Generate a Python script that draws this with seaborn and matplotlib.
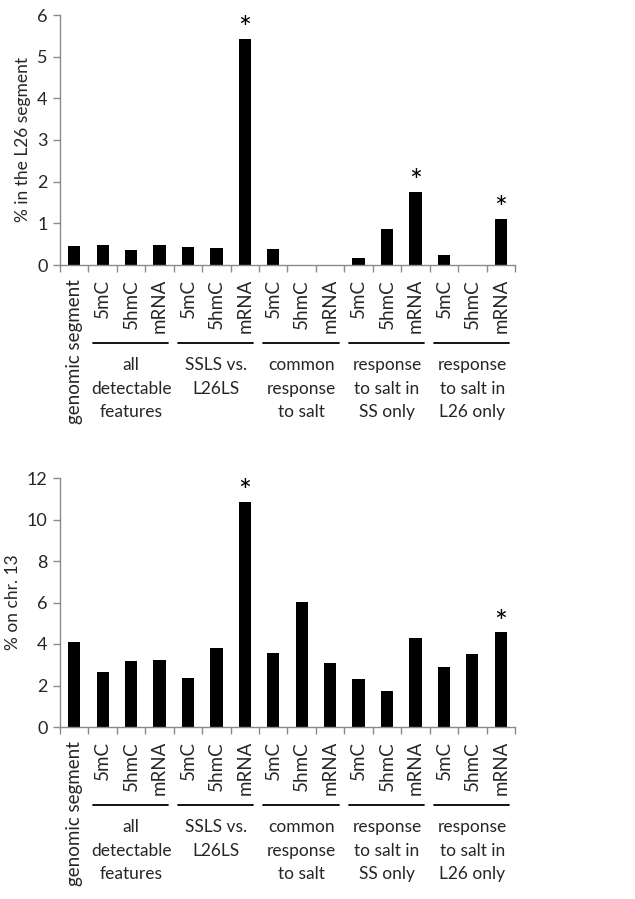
import matplotlib
matplotlib.use("Agg")
import matplotlib.pyplot as plt
import matplotlib.transforms as mtransforms
from matplotlib.lines import Line2D
import seaborn as sns
import pandas as pd
import numpy as np

sns.set_theme(style="white")
plt.rcParams['font.family'] = ['Lato', 'DejaVu Sans']

# ---- data ----
bar_labels = ["genomic segment",
              "5mC", "5hmC", "mRNA",
              "5mC", "5hmC", "mRNA",
              "5mC", "5hmC", "mRNA",
              "5mC", "5hmC", "mRNA",
              "5mC", "5hmC", "mRNA"]
group_labels = ["all\ndetectable\nfeatures",
                "SSLS vs.\nL26LS",
                "common\nresponse\nto salt",
                "response\nto salt in\nSS only",
                "response\nto salt in\nL26 only"]
l26_values = [0.46, 0.47, 0.37, 0.48, 0.43, 0.41, 5.42, 0.39, 0.0, 0.0,
              0.16, 0.86, 1.76, 0.23, 0.0, 1.10]
chr13_values = [4.11, 2.63, 3.16, 3.21, 2.36, 3.82, 10.86, 3.55, 6.01, 3.07,
                2.33, 1.72, 4.27, 2.91, 3.50, 4.56]
l26_star = [6, 12, 15]
chr13_star = [6, 15]

keys = [f"c{i}" for i in range(len(bar_labels))]

fig = plt.figure(figsize=(6.35, 8.99), dpi=100)
W, H = 635, 899
left_px, right_px = 60, 515

def make_axes(top_px, bottom_px):
    return fig.add_axes([left_px / W, 1 - bottom_px / H,
                         (right_px - left_px) / W, (bottom_px - top_px) / H])

ax1 = make_axes(15, 265)
ax2 = make_axes(478, 727)

spine_col = "#8a8a8a"

def draw(ax, values, stars, ymax, ystep, ylabel):
    df = pd.DataFrame({"key": keys, "value": values})
    sns.barplot(data=df, x="key", y="value", order=keys, color="black",
                width=0.43, saturation=1, ax=ax, edgecolor="black", linewidth=0)
    ax.set_xlim(-0.5, len(keys) - 0.5)
    ax.set_ylim(0, ymax)
    ticks = np.arange(0, ymax + 0.01, ystep)
    ax.set_yticks(ticks)
    ax.set_yticklabels([f"{int(v)}" for v in ticks], fontsize=13)
    ax.set_xticks(range(len(keys)))
    ax.set_xticklabels(bar_labels, rotation=90, fontsize=13.5, va="top", ha="center")
    ax.set_xticks(np.arange(-0.5, len(keys)), minor=True)
    ax.tick_params(axis="x", which="major", length=0, pad=10)
    ax.tick_params(axis="x", which="minor", length=5, width=1, color=spine_col,
                   direction="out", bottom=True)
    ax.tick_params(axis="y", length=5, width=1, color=spine_col, direction="out",
                   left=True, pad=4)
    ax.set_xlabel("")
    ax.set_ylabel(ylabel, fontsize=12.5)
    for s in ["top", "right"]:
        ax.spines[s].set_visible(False)
    for s in ["left", "bottom"]:
        ax.spines[s].set_color(spine_col)
        ax.spines[s].set_linewidth(1)
    # significance stars
    for i in stars:
        ax.annotate("*", xy=(i, values[i]), xytext=(0, 7),
                    textcoords="offset points", ha="center", va="center",
                    fontsize=22, color="black")
    # group lines and labels
    tr = ax.get_xaxis_transform()
    line_tr = tr + mtransforms.ScaledTranslation(0, -78 / 100, fig.dpi_scale_trans)
    text_tr = tr + mtransforms.ScaledTranslation(0, -92 / 100, fig.dpi_scale_trans)
    for g, lab in enumerate(group_labels):
        start = 1 + 3 * g
        x0, x1 = start - 0.35, start + 2 + 0.3
        ax.add_line(Line2D([x0, x1], [0, 0], transform=line_tr, color="black",
                           linewidth=1.3, clip_on=False))
        ax.text(start + 1, 0, lab, transform=text_tr, ha="center", va="top",
                fontsize=12.5, linespacing=1.58)

draw(ax1, l26_values, l26_star, 6, 1, "% in the L26 segment")
draw(ax2, chr13_values, chr13_star, 12, 2, "% on chr. 13")

fig.savefig("out.png", dpi=100)
